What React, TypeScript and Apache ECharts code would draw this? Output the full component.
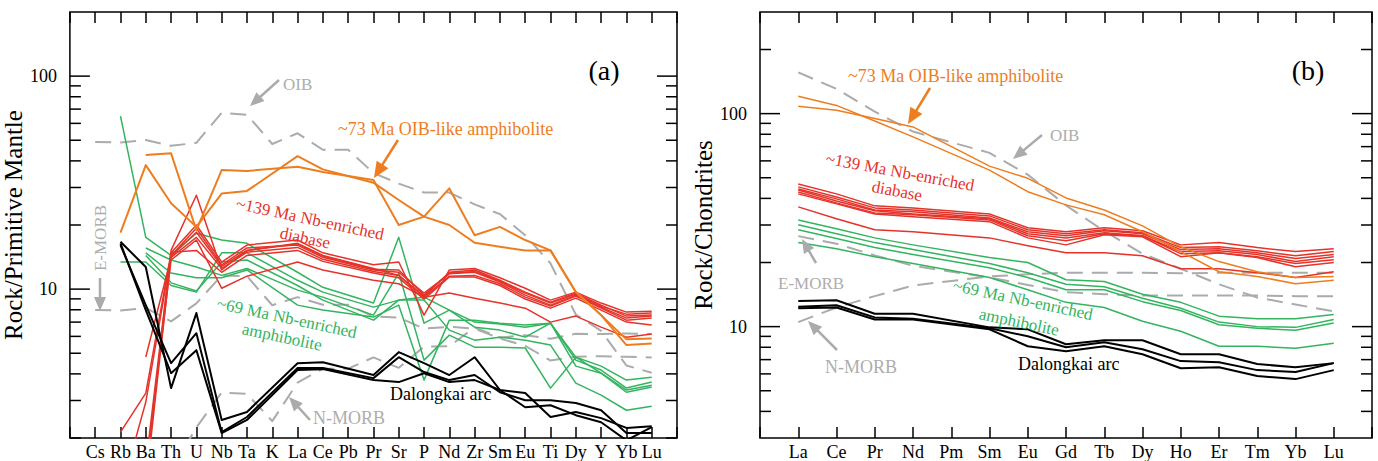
import React, { useEffect, useRef } from 'react';
import * as echarts from 'echarts';

// ---------- categories ----------
const spiderElements = ['Cs','Rb','Ba','Th','U','Nb','Ta','K','La','Ce','Pb','Pr','Sr','P','Nd','Zr','Sm','Eu','Ti','Dy','Y','Yb','Lu'];
const reeElements = ['La','Ce','Pr','Nd','Pm','Sm','Eu','Gd','Tb','Dy','Ho','Er','Tm','Yb','Lu'];

// ---------- (a) primitive-mantle normalised ----------
const oibPM = [49.0, 48.8, 50.1, 47.1, 48.6, 67.3, 65.9, 48.0, 53.9, 45.1, 45.1, 35.1, 31.3, 28.4, 28.4, 25.0, 22.5, 17.9, 13.2, 7.60, 6.37, 4.38, 4.05];
const emorbPM = [7.97, 7.94, 8.16, 7.06, 8.57, 11.6, 11.5, 8.40, 9.17, 8.45, 8.45, 7.43, 7.35, 6.53, 6.65, 6.52, 5.86, 5.42, 4.62, 4.82, 4.84, 4.81, 4.78];
const nmorbPM = [0.886, 0.882, 0.901, 1.41, 2.24, 3.27, 3.22, 2.40, 3.64, 4.23, 4.23, 4.78, 4.27, 5.37, 5.39, 6.61, 5.92, 6.07, 5.85, 6.17, 6.15, 6.19, 6.15];

const oibLikeA = [null, 18.4, 38.2, 25.3, 19.6, 28.1, 28.9, null, 42.1, 36.5, null, 31.6, 26.2, 21.9, 20.0, 16.5, 15.8, 15.2, 15.2, 9.7, 7.55, 5.46, 5.56];
const oibLikeB = [null, null, 42.6, 43.4, 18.9, 36.2, 35.9, null, 37.5, 35.5, null, 32.5, 20.0, 21.9, 29.7, 17.9, 19.6, 17.0, 15.2, 9.7, 7.55, 5.81, 5.87];

const diabase1 = [null, null, 1.3, 15.2, 27.6, 12.3, 15.2, null, 16.4, 14.4, null, 12.5, 11.6, 9.27, 12.0, 12.3, 11.0, 9.68, 8.69, 9.58, 8.41, 7.47, 7.55];
const diabase2 = [null, 2.13, 3.25, 14.8, 20.0, 13.4, 16.1, null, 17.0, 14.8, null, 13.0, 13.4, 7.55, 12.3, 12.5, 11.3, 10.1, 8.88, 9.68, 8.60, 7.80, 7.88];
const diabase3 = [null, 1.1, 2.95, 14.4, 19.3, 13.0, 15.6, null, 16.1, 14.1, null, 12.3, 12.0, 9.58, 11.8, 12.0, 10.8, 9.37, 8.41, 9.37, 8.23, 7.31, 7.47];
const diabase4 = [null, null, 4.8, 14.1, 17.5, 12.5, 14.9, null, 15.7, 13.8, null, 12.1, 11.6, 9.17, 11.5, 11.6, 10.6, 9.17, 8.32, 9.27, 8.14, 7.15, 7.31];
const diabase5 = [null, null, 1.5, 14.9, 15.2, 12.0, 14.4, null, 15.2, 13.5, null, 11.9, 11.3, 8.98, 11.4, 11.4, 10.4, 8.98, 8.14, 9.07, 7.97, 7.00, 6.78];
const diabase6 = [null, null, 1.2, 14.3, 18.5, 12.8, 15.2, null, 16.3, 14.3, null, 12.4, 12.3, 9.37, 11.9, 12.1, 10.9, 9.58, 8.60, 9.47, 8.32, 7.63, 7.72];
const diabase7 = [null, null, 1.4, 13.7, 17.0, 10.1, 11.5, null, 13.4, 12.3, null, 11.0, 10.6, 9.17, 9.58, 9.07, 8.60, 8.14, 7.00, 7.47, 6.63, 5.95, 6.15];

const amph1 = [null, 64.9, 17.5, 14.4, 18.3, 17.0, 16.4, null, 12.0, 10.2, null, 8.60, 17.5, 6.92, 7.97, 7.00, 6.85, 6.63, 6.92, 4.79, 4.35, 3.74, 3.86];
const amph2 = [null, 13.4, 13.4, 10.4, 9.68, 14.8, 14.8, null, 11.0, 9.68, null, 8.23, 8.88, 9.17, 7.97, 6.63, 6.42, 5.95, 6.92, 4.64, 4.17, 3.43, 3.66];
const amph3 = [null, null, 15.6, 13.7, 12.7, 11.6, 12.5, null, 9.89, 9.17, null, 7.55, 11.9, 4.64, 6.08, 5.34, 5.34, 5.29, 3.43, 4.79, 4.03, 3.28, 3.47];
const amph4 = [null, null, 14.8, 11.9, 11.3, 11.3, 12.3, null, 8.41, 7.97, null, 7.39, 8.41, 3.74, 7.15, 7.15, 6.92, 6.78, 6.92, 4.35, 4.03, 3.36, 3.54];
const amph5 = [null, null, 14.4, 10.7, 9.79, 13.4, 13.7, null, 10.4, 8.88, null, 7.15, 8.88, 8.88, 6.42, 5.76, 5.95, 5.76, 5.46, 3.62, 3.18, 2.70, 2.82];

const arc1 = [null, 16.7, 12.7, 3.43, 7.72, 2.43, 2.65, null, 4.49, 4.54, null, 3.95, 5.06, 4.49, 3.95, 4.79, 3.36, 3.25, 2.51, 2.65, 2.48, 2.23, 2.27];
const arc2 = [null, 16.1, 8.41, 4.49, 6.21, 2.13, 2.51, null, 4.26, 4.26, null, 3.82, 4.79, 4.08, 3.74, 3.95, 3.28, 3.01, 3.01, 2.92, 2.70, 2.11, 2.11];
const arc3 = [null, 16.4, 7.97, 4.03, 5.17, 2.11, 2.43, null, 4.17, 4.21, null, 3.74, 3.66, 4.03, 3.66, 3.74, 3.36, 2.79, 2.85, 2.56, 2.37, 1.95, 2.25];

// ---------- (b) chondrite normalised ----------
const oibCI = [156.1, 130.7, 102.1, 82.4, null, 65.4, 51.7, 37.1, 28.1, 22.0, 18.7, 15.8, 13.7, 12.7, 11.8];
const emorbCI = [26.6, 24.5, 21.6, 19.3, null, 17.0, 15.7, 14.5, 14.2, 14.0, 14.0, 14.0, 14.0, 13.9, 13.9];
const nmorbCI = [10.5, 12.3, 13.9, 15.6, null, 17.2, 17.6, 17.9, 17.9, 17.9, 17.8, 17.9, 17.9, 17.9, 17.9];

const reeOibLikeA = [120.8, 109.3, 92.4, 77.8, null, 54.3, 43.0, 37.3, 33.5, 27.9, 22.5, 18.1, 17.2, 15.9, 16.5];
const reeOibLikeB = [108.2, 103.6, 94.8, 86.6, null, 56.7, 49.7, 40.2, 35.3, 29.7, 23.7, 20.2, 18.1, 17.0, 17.2];

const reeDiabase1 = [46.7, 42.0, 36.9, 36.1, null, 33.8, 29.1, 27.9, 29.1, 28.2, 24.2, 24.8, 23.5, 22.5, 23.2];
const reeDiabase2 = [45.3, 40.6, 36.1, 35.3, null, 33.1, 28.5, 27.3, 28.5, 27.6, 23.5, 23.7, 22.7, 21.5, 22.5];
const reeDiabase3 = [44.3, 39.8, 35.3, 34.6, null, 32.4, 27.9, 26.7, 28.2, 27.3, 23.0, 23.2, 22.2, 20.9, 21.8];
const reeDiabase4 = [43.8, 38.9, 35.0, 33.8, null, 32.1, 27.3, 26.1, 27.6, 26.7, 22.5, 22.7, 21.8, 20.2, 21.3];
const reeDiabase5 = [42.9, 38.1, 34.2, 33.5, null, 31.7, 26.7, 25.3, 27.3, 26.7, 22.0, 22.2, 21.3, 19.8, 20.6];
const reeDiabase6 = [42.0, 37.7, 33.8, 32.8, null, 31.1, 26.1, 24.2, 27.0, 26.4, 21.3, 22.2, 21.1, 19.1, 20.0];
const reeDiabase7 = [36.5, 32.1, 28.5, 27.9, null, 26.1, 24.0, 22.2, 22.2, 21.5, 18.7, 18.7, 17.9, 17.0, 18.1];

const reeAmph1 = [31.7, 28.8, 26.1, 24.2, null, 21.1, 20.0, 16.6, 16.3, 14.2, 13.0, 11.2, 10.9, 10.9, 11.4];
const reeAmph2 = [30.1, 27.3, 24.8, 23.0, null, 19.8, 17.9, 15.8, 15.4, 13.6, 12.2, 10.5, 10.0, 9.92, 10.8];
const reeAmph3 = [28.5, 25.9, 23.5, 21.8, null, 18.9, 17.0, 14.9, 14.9, 13.1, 11.9, 10.2, 9.82, 9.61, 10.4];
const reeAmph4 = [24.8, 23.2, 21.3, 19.8, null, 17.0, 14.9, 13.0, 12.3, 10.6, 9.51, 8.09, 8.09, 7.92, 8.35];

const reeArc1 = [13.2, 13.3, 11.5, 11.5, null, 9.92, 9.71, 8.27, 8.63, 8.63, 7.42, 7.42, 6.67, 6.45, 6.74];
const reeArc2 = [12.4, 12.6, 11.05, 10.9, null, 9.82, 9.01, 8.00, 8.45, 7.83, 6.89, 6.81, 6.25, 6.12, 6.74];
const reeArc3 = [12.2, 12.3, 10.8, 10.8, null, 9.71, 8.09, 7.67, 8.09, 7.42, 6.38, 6.45, 5.86, 5.67, 6.25];

// ---------- tick values ----------
const spiderMinorTicks = [2, 3, 4, 5, 6, 7, 8, 9, 20, 30, 40, 50, 60, 70, 80, 90];
const reeMinorTicks = [4, 5, 6, 7, 8, 9, 20, 30, 40, 50, 60, 70, 80, 90, 200];
const majorTicks = [10, 100];

// ---------- styles ----------
const FONT = '"Liberation Serif", "Times New Roman", serif';
const ORANGE = '#EE7D1F';
const RED = '#E5332A';
const GREEN = '#33B45F';
const GRAY = '#ABABAB';
const GRAY_TEXT = '#ADADAD';
const BLACK = '#000000';

type Val = number | null;

function lineSeries(values: Val[], grid: number, color: string, width: number, z: number, dashed = false) {
  return {
    type: 'line',
    xAxisIndex: grid * 2,
    yAxisIndex: grid,
    data: values.map((v, i) => [i, v]).filter((p) => p[1] != null),
    symbol: 'none',
    silent: true,
    z,
    lineStyle: {
      color,
      width,
      type: dashed ? [16, 9] : 'solid',
      join: 'round',
    },
  };
}

function tickSeries(grid: number, xMin: number, xMax: number, values: number[], len: number) {
  return {
    type: 'custom',
    xAxisIndex: grid * 2,
    yAxisIndex: grid,
    silent: true,
    z: 20,
    data: values.map((v) => [xMin, v]),
    renderItem: (_params: any, api: any) => {
      const y = api.value(1);
      const p1 = api.coord([xMin, y]);
      const p2 = api.coord([xMax, y]);
      return {
        type: 'group',
        children: [
          { type: 'line', shape: { x1: p1[0], y1: p1[1], x2: p1[0] + len, y2: p1[1] }, style: { stroke: BLACK, lineWidth: 1.5 } },
          { type: 'line', shape: { x1: p2[0], y1: p2[1], x2: p2[0] - len, y2: p2[1] }, style: { stroke: BLACK, lineWidth: 1.5 } },
        ],
      };
    },
  };
}

function bottomX(grid: number, cats: string[]) {
  return {
    type: 'value',
    gridIndex: grid,
    position: 'bottom',
    min: -1,
    max: cats.length,
    interval: 1,
    axisLine: { show: false },
    splitLine: { show: false },
    axisTick: { show: true, inside: true, length: 11, lineStyle: { color: BLACK, width: 1.5 } },
    axisLabel: {
      formatter: (v: number) => cats[Math.round(v)] ?? '',
      fontSize: 18,
      fontFamily: FONT,
      color: BLACK,
      margin: 5,
    },
  };
}

function topX(grid: number, cats: string[]) {
  return {
    type: 'value',
    gridIndex: grid,
    position: 'top',
    min: -1,
    max: cats.length,
    interval: 1,
    axisLine: { show: false },
    splitLine: { show: false },
    axisTick: { show: true, inside: true, length: 11, lineStyle: { color: BLACK, width: 1.5 } },
    axisLabel: { show: false },
  };
}

function decadeLabel(v: number) {
  const l = Math.log10(v);
  return Math.abs(l - Math.round(l)) < 1e-6 ? String(Math.round(v)) : '';
}

function logY(grid: number, min: number, max: number, name: string, nameGap: number) {
  return {
    type: 'log',
    logBase: 10,
    gridIndex: grid,
    min,
    max,
    axisLine: { show: false },
    axisTick: { show: false },
    splitLine: { show: false },
    axisLabel: { formatter: decadeLabel, fontSize: 18, fontFamily: FONT, color: BLACK, margin: 13 },
    name,
    nameLocation: 'middle',
    nameGap,
    nameTextStyle: { fontSize: 25, fontFamily: FONT, color: BLACK },
  };
}

function text(t: string, x: number, y: number, color: string, opts: { rot?: number; align?: string; size?: number } = {}) {
  const align = opts.align ?? 'left';
  return {
    type: 'text',
    x,
    y,
    rotation: ((opts.rot ?? 0) * Math.PI) / 180,
    z: 30,
    silent: true,
    style: {
      text: t,
      fill: color,
      fontSize: opts.size ?? 17,
      fontFamily: FONT,
      align,
      textAlign: align,
      verticalAlign: 'middle',
      textVerticalAlign: 'middle',
    },
  };
}

function arrow(x1: number, y1: number, x2: number, y2: number, color: string, width = 2.5, headLen = 14, headW = 12) {
  const dx = x2 - x1;
  const dy = y2 - y1;
  const L = Math.sqrt(dx * dx + dy * dy);
  const ux = dx / L;
  const uy = dy / L;
  const bx = x2 - ux * headLen;
  const by = y2 - uy * headLen;
  const px = -uy;
  const py = ux;
  return [
    { type: 'line', z: 30, silent: true, shape: { x1, y1, x2: bx + ux * 2, y2: by + uy * 2 }, style: { stroke: color, lineWidth: width } },
    {
      type: 'polygon',
      z: 30,
      silent: true,
      shape: { points: [[x2, y2], [bx + (px * headW) / 2, by + (py * headW) / 2], [bx - (px * headW) / 2, by - (py * headW) / 2]] },
      style: { fill: color },
    },
  ];
}

const option = {
  animation: false,
  backgroundColor: '#ffffff',
  grid: [
    { left: 67, top: 12, width: 610, height: 427, show: true, borderColor: BLACK, borderWidth: 1.5, backgroundColor: 'transparent' },
    { left: 760, top: 12, width: 612, height: 427, show: true, borderColor: BLACK, borderWidth: 1.5, backgroundColor: 'transparent' },
  ],
  xAxis: [bottomX(0, spiderElements), topX(0, spiderElements), bottomX(1, reeElements), topX(1, reeElements)],
  yAxis: [logY(0, 2, 200, 'Rock/Primitive Mantle', 28), logY(1, 3, 300, 'Rock/Chondrites', 35)],
  series: [
    // panel (a)
    lineSeries(oibPM, 0, GRAY, 2, 2, true),
    lineSeries(emorbPM, 0, GRAY, 2, 2, true),
    lineSeries(nmorbPM, 0, GRAY, 2, 2, true),
    ...[amph1, amph2, amph3, amph4, amph5].map((d) => lineSeries(d, 0, GREEN, 1.5, 3)),
    ...[diabase1, diabase2, diabase3, diabase4, diabase5, diabase6, diabase7].map((d) => lineSeries(d, 0, RED, 1.5, 4)),
    ...[oibLikeA, oibLikeB].map((d) => lineSeries(d, 0, ORANGE, 2, 5)),
    ...[arc1, arc2, arc3].map((d) => lineSeries(d, 0, BLACK, 2, 6)),
    tickSeries(0, -1, spiderElements.length, spiderMinorTicks, 11),
    tickSeries(0, -1, spiderElements.length, majorTicks, 20),
    // panel (b)
    lineSeries(oibCI, 1, GRAY, 2, 2, true),
    lineSeries(emorbCI, 1, GRAY, 2, 2, true),
    lineSeries(nmorbCI, 1, GRAY, 2, 2, true),
    ...[reeAmph1, reeAmph2, reeAmph3, reeAmph4].map((d) => lineSeries(d, 1, GREEN, 1.5, 3)),
    ...[reeDiabase1, reeDiabase2, reeDiabase3, reeDiabase4, reeDiabase5, reeDiabase6, reeDiabase7].map((d) => lineSeries(d, 1, RED, 1.5, 4)),
    ...[reeOibLikeA, reeOibLikeB].map((d) => lineSeries(d, 1, ORANGE, 1.5, 5)),
    ...[reeArc1, reeArc2, reeArc3].map((d) => lineSeries(d, 1, BLACK, 2, 6)),
    tickSeries(1, -1, reeElements.length, reeMinorTicks, 11),
    tickSeries(1, -1, reeElements.length, majorTicks, 20),
  ],
  graphic: [
    // panel (a)
    text('OIB', 283, 84, GRAY_TEXT),
    ...arrow(279, 80, 250, 106, GRAY),
    text('~73 Ma OIB-like amphibolite', 338, 129, ORANGE, { size: 18 }),
    ...arrow(398, 140, 374, 178, ORANGE, 2.5, 16, 14),
    text('~139 Ma Nb-enriched', 310, 219, RED, { rot: -12, align: 'center' }),
    text('diabase', 305, 238, RED, { rot: -12, align: 'center' }),
    text('~69 Ma Nb-enriched', 287, 318, GREEN, { rot: -12, align: 'center' }),
    text('amphibolite', 282, 337, GREEN, { rot: -12, align: 'center' }),
    text('Dalongkai arc', 390, 394, BLACK, { size: 18 }),
    text('N-MORB', 313, 418, GRAY_TEXT, { size: 18 }),
    ...arrow(310, 420, 289, 397, GRAY),
    text('E-MORB', 100, 238, GRAY_TEXT, { rot: 90, align: 'center' }),
    ...arrow(100, 278, 100, 311, GRAY),
    text('(a)', 604, 70, BLACK, { size: 28, align: 'center' }),
    // panel (b)
    text('~73 Ma OIB-like amphibolite', 848, 76, ORANGE, { size: 18 }),
    ...arrow(930, 88, 908, 124, ORANGE, 2.5, 16, 14),
    text('OIB', 1050, 135, GRAY_TEXT),
    ...arrow(1042, 135, 1013, 159, GRAY),
    text('~139 Ma Nb-enriched', 900, 172, RED, { rot: -10.5, align: 'center' }),
    text('diabase', 897, 191, RED, { rot: -10.5, align: 'center' }),
    text('E-MORB', 778, 283, GRAY_TEXT),
    ...arrow(816, 263, 802, 239, GRAY),
    text('N-MORB', 825, 367, GRAY_TEXT, { size: 18 }),
    ...arrow(837, 350, 808, 321, GRAY),
    text('~69 Ma Nb-enriched', 1023, 300, GREEN, { rot: -12, align: 'center' }),
    text('amphibolite', 1019, 322, GREEN, { rot: -12, align: 'center' }),
    text('Dalongkai arc', 1018, 364, BLACK, { size: 18 }),
    text('(b)', 1308, 70, BLACK, { size: 28, align: 'center' }),
  ],
};

export default function App() {
  const ref = useRef<HTMLDivElement>(null);
  useEffect(() => {
    if (!ref.current) return;
    const chart = echarts.init(ref.current, null, { renderer: 'svg' });
    chart.setOption(option as any);
    return () => chart.dispose();
  }, []);
  return (
    <div
      ref={ref}
      style={{ position: 'fixed', left: 0, top: 0, width: 1378, height: 461, background: '#ffffff' }}
    />
  );
}
